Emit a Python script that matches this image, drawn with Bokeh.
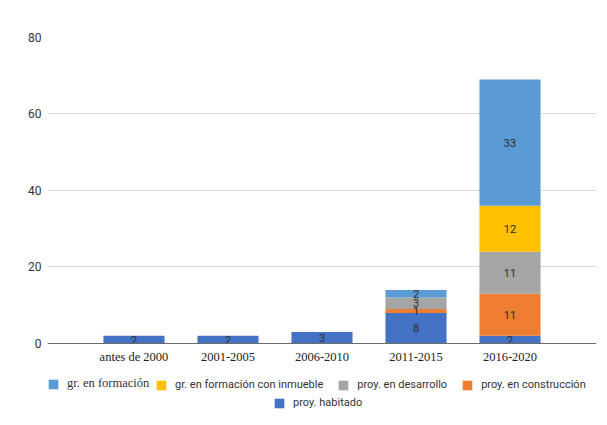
from bokeh.plotting import figure
from bokeh.models import ColumnDataSource, FactorRange, Range1d, Legend, LegendItem, FixedTicker
from bokeh.core.properties import value
from bokeh.embed import file_html
from bokeh.resources import INLINE

periods = ["antes de 2000", "2001-2005", "2006-2010", "2011-2015", "2016-2020"]
habitado = [2, 2, 3, 8, 2]
construccion = [0, 0, 0, 1, 11]
desarrollo = [0, 0, 0, 3, 11]
con_inmueble = [0, 0, 0, 0, 12]
formacion = [0, 0, 0, 2, 33]
series_names = ["proy. habitado", "proy. en construcción", "proy. en desarrollo",
                "gr. en formación con inmueble", "gr. en formación"]
colors = ["#4472c4", "#ed7d31", "#a5a5a5", "#ffc000", "#5b9bd5"]
y_ticks = [0, 20, 40, 60, 80]

series = [habitado, construccion, desarrollo, con_inmueble, formacion]
keys = ["s%d" % i for i in range(len(series))]
data = {"period": periods}
for k, s in zip(keys, series):
    data[k] = s
source = ColumnDataSource(data)

# frame extends below zero so the legend rows sit inside it
p = figure(x_range=FactorRange(factors=periods, range_padding=0.42, range_padding_units="absolute"),
           y_range=Range1d(-20.4, 80), width=599, height=425,
           output_backend="svg", toolbar_location=None,
           min_border_left=47, min_border_right=3, min_border_top=37, min_border_bottom=4)
p.background_fill_color = "white"
p.border_fill_color = "white"
p.outline_line_color = None

renderers = p.vbar_stack(keys, x="period", width=0.65, color=colors, source=source, line_color=None)

# segment labels
lx, ly, lt = [], [], []
for j, per in enumerate(periods):
    cum = 0
    for s in series:
        v = s[j]
        if v > 0:
            lx.append(per)
            ly.append(cum + v / 2)
            lt.append(str(v))
        cum += v
lsrc = ColumnDataSource(dict(x=lx, y=ly, t=lt))
p.text(x="x", y="y", text="t", source=lsrc, text_font=value("Roboto"), text_font_size="11px",
       text_align="center", text_baseline="middle", text_color="#2b2b2b")

# axes
p.xaxis.fixed_location = 0
p.xaxis.axis_line_color = "#6b6b6b"
p.xaxis.major_tick_line_color = None
p.xaxis.minor_tick_line_color = None
p.xaxis.major_tick_out = 0
p.xaxis.major_tick_in = 0
p.xaxis.major_label_standoff = 7
p.xaxis.major_label_text_font = "Liberation Serif"
p.xaxis.major_label_text_font_size = "12.5px"
p.xaxis.major_label_text_color = "#222222"
p.xgrid.grid_line_color = None

p.yaxis.ticker = FixedTicker(ticks=y_ticks)
p.yaxis.axis_line_color = None
p.yaxis.major_tick_line_color = None
p.yaxis.minor_tick_line_color = None
p.yaxis.major_tick_out = 0
p.yaxis.major_tick_in = 0
p.yaxis.major_label_standoff = 6
p.yaxis.major_label_text_font = "Roboto"
p.yaxis.major_label_text_font_size = "12px"
p.yaxis.major_label_text_color = "#333333"
p.ygrid.grid_line_color = "#d9d9d9"
p.ygrid.ticker = FixedTicker(ticks=y_ticks)


def make_legend(items, loc, font, size):
    lg = Legend(items=items, location=loc, orientation="horizontal",
                label_text_font=font, label_text_font_size=size, label_text_color="#333333",
                glyph_width=12, glyph_height=12, label_height=12, label_standoff=8,
                spacing=14, padding=0, margin=0, border_line_color=None,
                background_fill_alpha=0)
    p.add_layout(lg)
    return lg

make_legend([LegendItem(label=series_names[4], renderers=[renderers[4]])], (0, 30),
            "Liberation Serif", "12.5px")
make_legend([LegendItem(label=series_names[i], renderers=[renderers[i]]) for i in (3, 2, 1)],
            (108, 30), "Roboto", "11px")
make_legend([LegendItem(label=series_names[0], renderers=[renderers[0]])], (226, 12),
            "Roboto", "11px")

open("out.html", "w").write(file_html(p, INLINE))
